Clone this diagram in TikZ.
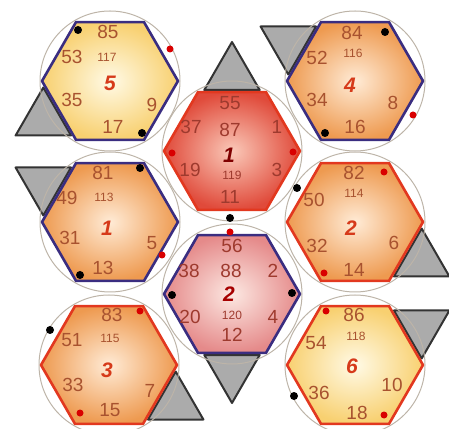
\documentclass[tikz,border=0pt]{standalone}
\usepackage{fontspec}
\setmainfont{Liberation Sans}
\usepackage{xcolor}
\usepackage{tikz}
\definecolor{hexblue}{HTML}{3A2D80}
\definecolor{hexred}{HTML}{E2381F}
\definecolor{hexyellow}{HTML}{F8D070}
\definecolor{hexyellowin}{HTML}{FFFAE6}
\definecolor{hexorange}{HTML}{EE9A50}
\definecolor{hexorangein}{HTML}{FFEBD6}
\definecolor{hexcrimson}{HTML}{E04A3A}
\definecolor{hexcrimsonin}{HTML}{FAC8B8}
\definecolor{hexpink}{HTML}{E58A8A}
\definecolor{hexpinkin}{HTML}{FCE8E2}
\definecolor{numbrown}{HTML}{A8522F}
\definecolor{numcrimson}{HTML}{9E3A2E}
\definecolor{tagred}{HTML}{D63A1A}
\definecolor{trigray}{HTML}{ABABAB}
\definecolor{ringgray}{HTML}{BDB4A8}

\newcommand{\hexcell}[4]{%
  \shadedraw[shift={#1},inner color=#2,outer color=#3,draw=#4,line width=2.6pt,line join=round]
    (0:68) -- (60:68) -- (120:68) -- (180:68) -- (240:68) -- (300:68) -- cycle;}
\newcommand{\sidetri}[2]{%
  \begin{scope}[shift={#1},shift={(#2:77)}]
    \filldraw[tri] (#2:32) -- (#2+120:32) -- (#2+240:32) -- cycle;
  \end{scope}}

\begin{document}
\begin{tikzpicture}[x=1pt,y=1pt,
  tri/.style={fill=trigray,draw=black!80,line width=2pt,line join=round},
  ring/.style={draw=ringgray,line width=1pt},
  blackdot/.style={fill=black},
  reddot/.style={fill=red!85!black},
  cellnum/.style={text=numbrown,font=\fontsize{19}{19}\selectfont,inner sep=0pt},
  cellsub/.style={text=numbrown,font=\fontsize{12}{12}\selectfont,inner sep=0pt},
  celltag/.style={text=tagred,font=\fontsize{21}{21}\selectfont\bfseries\itshape,inner sep=0pt}]
  \useasboundingbox (0,0) rectangle (449,428);
  % triangles behind the cells
  \sidetri{(110,347)}{210}
  \sidetri{(355,347)}{150}
  \sidetri{(232,277)}{90}
  \sidetri{(110,206)}{150}
  \sidetri{(355,206)}{330}
  \sidetri{(232,134)}{270}
  \sidetri{(109,63)}{330}
  \sidetri{(355,63)}{30}
  % rings
  \draw[ring] (110,347) circle[radius=70];
  \draw[ring] (355,347) circle[radius=70];
  \draw[ring] (232,277) circle[radius=70];
  \draw[ring] (110,206) circle[radius=70];
  \draw[ring] (355,206) circle[radius=70];
  \draw[ring] (232,134) circle[radius=70];
  \draw[ring] (109,63) circle[radius=70];
  \draw[ring] (355,63) circle[radius=70];
  % cells
  \hexcell{(110,347)}{hexyellowin}{hexyellow}{hexblue}
  \hexcell{(355,347)}{hexorangein}{hexorange}{hexblue}
  \hexcell{(232,277)}{hexcrimsonin}{hexcrimson}{hexred}
  \hexcell{(110,206)}{hexorangein}{hexorange}{hexblue}
  \hexcell{(355,206)}{hexorangein}{hexorange}{hexred}
  \hexcell{(232,134)}{hexpinkin}{hexpink}{hexblue}
  \hexcell{(109,63)}{hexorangein}{hexorange}{hexred}
  \hexcell{(355,63)}{hexyellowin}{hexyellow}{hexred}
  % dots
  \fill[blackdot] (78,398) circle[radius=4];
  \fill[reddot] (170,379) circle[radius=3.5];
  \fill[blackdot] (142,295) circle[radius=4];
  \fill[blackdot] (385,396) circle[radius=4];
  \fill[reddot] (413,313) circle[radius=3.5];
  \fill[blackdot] (325,295) circle[radius=4];
  \fill[reddot] (172,275) circle[radius=3.5];
  \fill[reddot] (293,276) circle[radius=3.5];
  \fill[blackdot] (297,240) circle[radius=4];
  \fill[blackdot] (230,210) circle[radius=4];
  \fill[reddot] (230,196) circle[radius=3.5];
  \fill[blackdot] (172,133) circle[radius=4];
  \fill[blackdot] (292,135) circle[radius=4];
  \fill[blackdot] (140,260) circle[radius=4];
  \fill[reddot] (162,173) circle[radius=3.5];
  \fill[blackdot] (80,153) circle[radius=4];
  \fill[reddot] (384,256) circle[radius=3.5];
  \fill[reddot] (324,155) circle[radius=3.5];
  \fill[reddot] (140,117) circle[radius=3.5];
  \fill[blackdot] (50,98) circle[radius=4];
  \fill[reddot] (80,15) circle[radius=3.5];
  \fill[reddot] (326,117) circle[radius=3.5];
  \fill[blackdot] (294,32) circle[radius=4];
  \fill[reddot] (384,13) circle[radius=3.5];
  % cell 5
  \node[cellnum] (c5top) at (108,396) {85};
  \node[cellsub] (c5sub) at (107,371) {117};
  \node[cellnum] (c5ul) at (72,371) {53};
  \node[celltag] (c5tag) at (110,345) {5};
  \node[cellnum] (c5ll) at (72,328) {35};
  \node[cellnum] (c5r) at (152,323) {9};
  \node[cellnum] (c5bot) at (113,301) {17};
  % cell 4
  \node[cellnum] (c4top) at (352,395) {84};
  \node[cellsub] (c4sub) at (353,375) {116};
  \node[cellnum] (c4ul) at (317,370) {52};
  \node[celltag] (c4tag) at (350,343) {4};
  \node[cellnum] (c4ll) at (317,328) {34};
  \node[cellnum] (c4r) at (393,325) {8};
  \node[cellnum] (c4bot) at (355,301) {16};
  % red cell 1
  \node[cellnum,text=numcrimson] (r1top) at (230,325) {55};
  \node[cellnum,text=numcrimson] (r1ul) at (191,301) {37};
  \node[cellnum,text=numcrimson] (r1mid) at (230,298) {87};
  \node[cellnum,text=numcrimson] (r1ur) at (277,301) {1};
  \node[celltag,text=red!50!black] (r1tag) at (229,273) {1};
  \node[cellnum,text=numcrimson] (r1ll) at (190,258) {19};
  \node[cellsub,text=numcrimson] (r1sub) at (232,253) {119};
  \node[cellnum,text=numcrimson] (r1lr) at (277,258) {3};
  \node[cellnum,text=numcrimson] (r1bot) at (230,231) {11};
  % cell 1
  \node[cellnum] (c1top) at (103,255) {81};
  \node[cellsub] (c1sub) at (104,231) {113};
  \node[cellnum] (c1ul) at (67,230) {49};
  \node[celltag] (c1tag) at (107,200) {1};
  \node[cellnum] (c1ll) at (70,190) {31};
  \node[cellnum] (c1r) at (152,185) {5};
  \node[cellnum] (c1bot) at (103,160) {13};
  % cell 2
  \node[cellnum] (c2top) at (354,255) {82};
  \node[cellsub] (c2sub) at (354,235) {114};
  \node[cellnum] (c2ul) at (314,228) {50};
  \node[celltag] (c2tag) at (351,200) {2};
  \node[cellnum] (c2ll) at (317,182) {32};
  \node[cellnum] (c2r) at (394,185) {6};
  \node[cellnum] (c2bot) at (354,158) {14};
  % pink cell 2
  \node[cellnum,text=numcrimson] (p2top) at (232,182) {56};
  \node[cellnum,text=numcrimson] (p2ul) at (189,157) {38};
  \node[cellnum,text=numcrimson] (p2mid) at (231,157) {88};
  \node[cellnum,text=numcrimson] (p2ur) at (273,157) {2};
  \node[celltag,text=red!65!black] (p2tag) at (229,134) {2};
  \node[cellnum,text=numcrimson] (p2ll) at (190,111) {20};
  \node[cellsub,text=numcrimson] (p2sub) at (232,113) {120};
  \node[cellnum,text=numcrimson] (p2lr) at (273,111) {4};
  \node[cellnum,text=numcrimson] (p2bot) at (232,93) {12};
  % cell 3
  \node[cellnum] (c3top) at (112,113) {83};
  \node[cellsub] (c3sub) at (110,90) {115};
  \node[cellnum] (c3ul) at (72,88) {51};
  \node[celltag] (c3tag) at (107,58) {3};
  \node[cellnum] (c3ll) at (73,43) {33};
  \node[cellnum] (c3r) at (150,37) {7};
  \node[cellnum] (c3bot) at (110,18) {15};
  % cell 6
  \node[cellnum] (c6top) at (354,113) {86};
  \node[cellsub] (c6sub) at (356,92) {118};
  \node[cellnum] (c6ul) at (316,85) {54};
  \node[celltag] (c6tag) at (352,62) {6};
  \node[cellnum] (c6ll) at (319,35) {36};
  \node[cellnum] (c6r) at (392,43) {10};
  \node[cellnum] (c6bot) at (357,15) {18};
\end{tikzpicture}
\end{document}
